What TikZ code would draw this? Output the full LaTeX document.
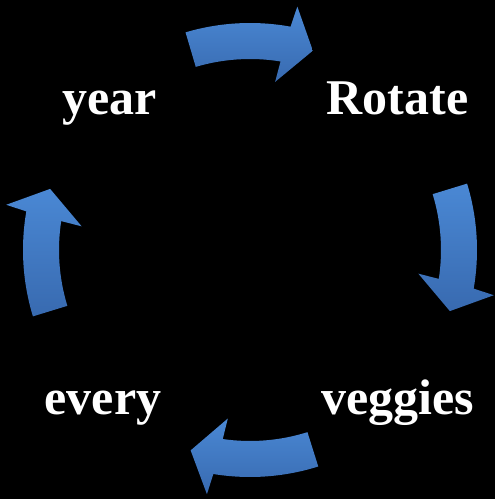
\documentclass[tikz,border=0pt]{standalone}
\usepackage{fontspec}
\setmainfont{Liberation Serif}
\begin{document}
\begin{tikzpicture}[x=1pt,y=1pt,
  lbl/.style={text=white,font=\bfseries\fontsize{50}{60}\selectfont,anchor=base,inner sep=0pt},
  arrowshade/.style={top color=arrowtop,bottom color=arrowbot,draw=none}]
\definecolor{arrowtop}{RGB}{74,136,212}
\definecolor{arrowbot}{RGB}{56,106,176}
\fill[black] (0,0) rectangle (495,499);
\useasboundingbox (0,0) rectangle (495,499);
\newcommand\cyclearrow[1]{%
  \shade[arrowshade] (#1+17:227pt) arc[start angle=#1+17, end angle=#1-9.8, radius=227pt]
    -- (#1-10.5:248pt) -- (#1-17:209pt) -- (#1-8:170pt) -- (#1-8.7:191pt)
    arc[start angle=#1-8.7, end angle=#1+17, radius=191pt] -- cycle;}
\begin{scope}[shift={(250,249)}]
  \cyclearrow{89.5}
  \cyclearrow{0}
  \cyclearrow{-89.5}
  \cyclearrow{180}
\end{scope}
\node[lbl] (year) at (109.5,384) {year};
\node[lbl] (rotate) at (397.5,384) {Rotate};
\node[lbl] (every) at (103,84) {every};
\node[lbl] (veggies) at (398,84) {veggies};
\end{tikzpicture}
\end{document}
